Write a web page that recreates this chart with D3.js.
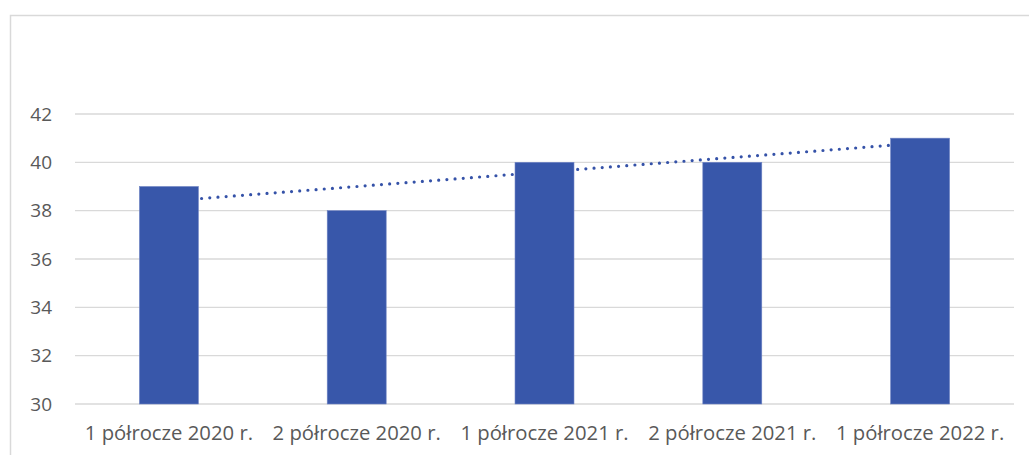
<!DOCTYPE html>
<html>
<head>
<meta charset="utf-8">
<script src="https://cdn.jsdelivr.net/npm/d3@7"></script>
<style>
  body { margin: 0; background: #fff; }
  .tick text { font-family: "Open Sans", "Liberation Sans", sans-serif; fill: #595959; }
</style>
</head>
<body>
<div class="chart"></div>
<script>
// half-year periods and values
var categories = ["1 półrocze 2020 r.", "2 półrocze 2020 r.", "1 półrocze 2021 r.", "2 półrocze 2021 r.", "1 półrocze 2022 r."];
var values = [39, 38, 40, 40, 41];
var yTicks = [30, 32, 34, 36, 38, 40, 42];

var svgWidth = 1029;
var svgHeight = 455;
var margin = { top: 114, right: 15, bottom: 51, left: 75 };
var width = svgWidth - margin.left - margin.right;
var height = svgHeight - margin.top - margin.bottom;

var root = d3.select(".chart")
  .append("svg")
  .attr("width", svgWidth)
  .attr("height", svgHeight);

// chart area border
root.append("rect")
  .attr("x", 10.5)
  .attr("y", 15.5)
  .attr("width", 1040)
  .attr("height", 460)
  .attr("fill", "none")
  .attr("stroke", "#d9d9d9")
  .attr("stroke-width", 1.5);

var chart = root.append("g")
  .attr("transform", "translate(" + margin.left + "," + margin.top + ")");

var xScale = d3.scaleBand()
  .domain(categories)
  .range([0, width])
  .paddingInner(0.686)
  .paddingOuter(0.343);

var yScale = d3.scaleLinear()
  .domain([30, 42])
  .range([height, 0]);

// gridlines
chart.selectAll(".grid")
  .data(yTicks)
  .enter().append("line")
  .attr("x1", 0)
  .attr("x2", width)
  .attr("y1", function(d) { return yScale(d); })
  .attr("y2", function(d) { return yScale(d); })
  .attr("stroke", "#d9d9d9")
  .attr("stroke-width", 1.3);

// y axis labels
var leftAxis = d3.axisLeft(yScale).tickValues(yTicks).tickSize(0).tickPadding(23);
var yAxis = chart.append("g").call(leftAxis);
yAxis.select(".domain").remove();
yAxis.selectAll("text").style("font-size", "19px");

// x axis labels
var bottomAxis = d3.axisBottom(xScale).tickSize(0).tickPadding(22);
var xAxis = chart.append("g")
  .attr("transform", "translate(0," + height + ")")
  .call(bottomAxis);
xAxis.select(".domain").remove();
xAxis.selectAll("text").style("font-size", "20.3px");

// linear trend (least squares), drawn from first to last category centre
var n = values.length;
var mx = d3.mean(values, function(d, i) { return i; });
var my = d3.mean(values);
var slope = d3.sum(values, function(d, i) { return (i - mx) * (d - my); }) /
            d3.sum(values, function(d, i) { return (i - mx) * (i - mx); });
var trend = values.map(function(d, i) { return my + slope * (i - mx); });

function centre(i) { return xScale(categories[i]) + xScale.bandwidth() / 2; }

chart.append("path")
  .datum([0, n - 1])
  .attr("d", function(d) {
    return "M" + centre(d[0]) + "," + yScale(trend[d[0]]) +
      "L" + centre(d[1]) + "," + yScale(trend[d[1]]);
  })
  .attr("fill", "none")
  .attr("stroke", "#3552a8")
  .attr("stroke-width", 3.2)
  .attr("stroke-linecap", "round")
  .attr("stroke-dasharray", "0 8.2");

// bars
chart.selectAll(".bar")
  .data(values)
  .enter().append("rect")
  .attr("class", "bar")
  .attr("x", function(d, i) { return xScale(categories[i]); })
  .attr("width", xScale.bandwidth())
  .attr("y", function(d) { return yScale(d); })
  .attr("height", function(d) { return height - yScale(d); })
  .attr("fill", "#3857aa")
  .attr("stroke", "#6f84c4")
  .attr("stroke-width", 0.6);
</script>
</body>
</html>
